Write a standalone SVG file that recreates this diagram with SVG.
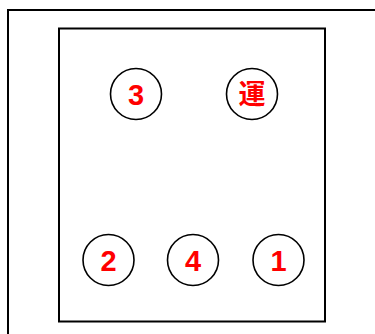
<svg xmlns="http://www.w3.org/2000/svg" width="375" height="334" viewBox="0 0 375 334">
<style>
.frame{fill:none;stroke:#000;stroke-width:2}
.node circle{fill:#fff;stroke:#000;stroke-width:1.6}
.node text{fill:#ff0000;font-family:"Liberation Sans","Noto Sans CJK JP",sans-serif;font-weight:bold;font-size:29px;text-anchor:middle;dominant-baseline:central}
</style>
<rect width="375" height="334" fill="#fff"/>
<path class="frame" d="M376,10 H8 V335"/>
<rect class="frame" x="59" y="28.5" width="266" height="293"/>
<g id="n3" class="node"><circle cx="136" cy="94" r="25.5"/><text x="136" y="95">3</text></g>
<g id="nun" class="node"><circle cx="252" cy="94" r="25.5"/><text x="252" y="95" style="font-size:27px">運</text></g>
<g id="n2" class="node"><circle cx="108.5" cy="260" r="25.5"/><text x="108.5" y="261">2</text></g>
<g id="n4" class="node"><circle cx="193" cy="260" r="25.5"/><text x="193" y="261">4</text></g>
<g id="n1" class="node"><circle cx="278.5" cy="260" r="25.5"/><text x="278.5" y="261">1</text></g>
<g id="connectors"></g>
</svg>
